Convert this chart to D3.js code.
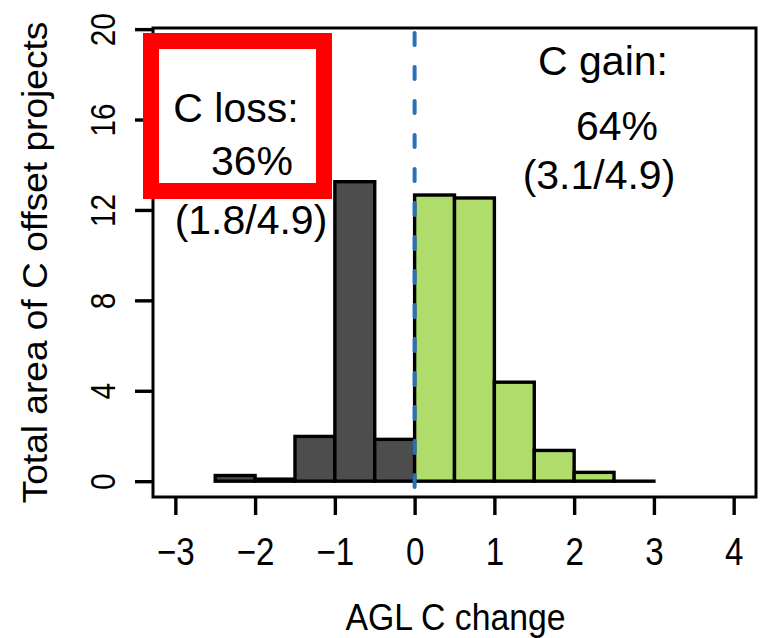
<!DOCTYPE html>
<html>
<head>
<meta charset="utf-8">
<script src="https://cdn.jsdelivr.net/npm/d3@7"></script>
<style>
  html, body { margin: 0; padding: 0; background: #fff; }
  svg { display: block; }
  text { font-family: "Liberation Sans", Arial, sans-serif; fill: #000; }
</style>
</head>
<body>
<svg id="chart" width="768" height="638"></svg>
<script>
// ---- data ----
const binStarts = [-2.5, -2, -1.5, -1, -0.5, 0, 0.5, 1, 1.5, 2, 2.5];
const binWidth = 0.5;
const areaValues = [0.25, 0.09, 1.98, 13.25, 1.85, 12.66, 12.53, 4.38, 1.36, 0.39, 0.0];
const xTickValues = [-3, -2, -1, 0, 1, 2, 3, 4];
const yTickValues = [0, 4, 8, 12, 16, 20];
const lossLines = ["C loss:", "36%", "(1.8/4.9)"];
const gainLines = ["C gain:", "64%", "(3.1/4.9)"];
const xTitle = "AGL C change";
const yTitle = "Total area of C offset projects";

const bins = binStarts.map((s, i) => ({ x0: s, x1: s + binWidth, v: areaValues[i] }));

// ---- layout ----
const svg = d3.select("#chart");
const box = { left: 153, right: 756, top: 28, bottom: 497 };
const x = d3.scaleLinear().domain([-3.28, 4.28]).range([box.left, box.right]);
const y = d3.scaleLinear().domain([-0.7, 20.05]).range([box.bottom, box.top]);

const darkFill = "#4d4d4d";
const greenFill = "#b0dc6b";

// bars (an empty bin is still drawn as its outline, as R's hist does)
svg.append("g").selectAll("rect").data(bins).join("rect")
  .attr("x", d => x(d.x0))
  .attr("y", d => y(d.v))
  .attr("width", d => x(d.x1) - x(d.x0))
  .attr("height", d => Math.max(0.01, y(0) - y(d.v)))
  .attr("fill", d => d.x0 < 0 ? darkFill : greenFill)
  .attr("stroke", "#000")
  .attr("stroke-width", 3.4)
  .attr("stroke-linejoin", "miter");

// vertical dashed line at 0
svg.append("line")
  .attr("x1", x(0)).attr("x2", x(0))
  .attr("y1", box.top + 5).attr("y2", box.bottom)
  .attr("stroke", "#2a70b8")
  .attr("stroke-width", 4)
  .attr("stroke-linecap", "round")
  .attr("stroke-dasharray", "12 22");

// plot box
svg.append("rect")
  .attr("x", box.left).attr("y", box.top)
  .attr("width", box.right - box.left).attr("height", box.bottom - box.top)
  .attr("fill", "none").attr("stroke", "#000").attr("stroke-width", 3);

// x axis
const gx = svg.append("g")
  .attr("transform", `translate(0,${box.bottom})`)
  .call(d3.axisBottom(x).tickValues(xTickValues).tickSize(18).tickFormat(d3.format("d")));
gx.select(".domain").remove();
gx.selectAll(".tick line").attr("stroke", "#000").attr("stroke-width", 3.4);
gx.selectAll(".tick text")
  .attr("y", 0).attr("dy", 0)
  .attr("text-anchor", "middle")
  .attr("transform", "translate(0,68) scale(0.85,1)")
  .style("font-size", "39px")
  .style("font-family", "'Liberation Sans', Arial, sans-serif")
  .attr("fill", "#000");

// y axis
const gy = svg.append("g")
  .attr("transform", `translate(${box.left},0)`)
  .call(d3.axisLeft(y).tickValues(yTickValues).tickSize(18).tickFormat(d3.format("d")));
gy.select(".domain").remove();
gy.selectAll(".tick line").attr("stroke", "#000").attr("stroke-width", 3.4);
gy.selectAll(".tick text")
  .attr("x", 0).attr("y", 0).attr("dy", 0)
  .attr("text-anchor", "middle")
  .attr("transform", "translate(-38,0) rotate(-90) scale(0.85,1)")
  .style("font-size", "35px")
  .style("font-family", "'Liberation Sans', Arial, sans-serif")
  .attr("fill", "#000");

// axis titles
svg.append("text")
  .attr("transform", `translate(${(box.left + box.right) / 2 + 1},630) scale(0.9,1)`)
  .attr("text-anchor", "middle")
  .style("font-size", "37.5px")
  .text(xTitle);

svg.append("text")
  .attr("transform", `translate(47,${(box.top + box.bottom) / 2}) rotate(-90) scale(1.06,1)`)
  .attr("text-anchor", "middle")
  .style("font-size", "35px")
  .text(yTitle);

// annotations
const lossPos = [[236, 122], [252, 175], [251, 234]];
const gainPos = [[603, 75], [617, 140], [599, 189]];
svg.append("g").selectAll("text").data(lossLines).join("text")
  .attr("x", (d, i) => lossPos[i][0]).attr("y", (d, i) => lossPos[i][1])
  .attr("text-anchor", "middle").style("font-size", "41px")
  .text(d => d);
svg.append("g").selectAll("text").data(gainLines).join("text")
  .attr("x", (d, i) => gainPos[i][0]).attr("y", (d, i) => gainPos[i][1])
  .attr("text-anchor", "middle").style("font-size", "41px")
  .text(d => d);

// red highlight frame
svg.append("rect")
  .attr("x", 151).attr("y", 41).attr("width", 173).attr("height", 150)
  .attr("fill", "none").attr("stroke", "#ff0000").attr("stroke-width", 16);
</script>
</body>
</html>
